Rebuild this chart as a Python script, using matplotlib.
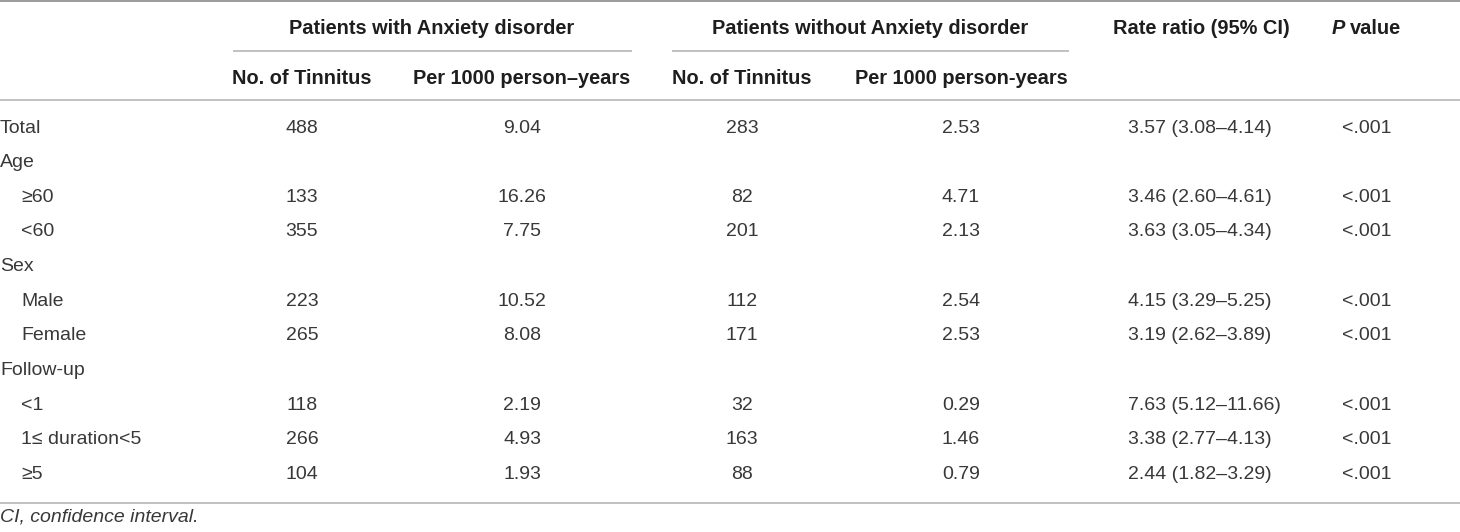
import matplotlib
matplotlib.use("Agg")
import matplotlib.pyplot as plt

# ---- data ----
row_labels = ["Total", "Age", "≥60", "<60", "Sex", "Male", "Female",
              "Follow-up", "<1", "1≤ duration<5", "≥5"]
row_indent = [False, False, True, True, False, True, True, False, True, True, True]
with_n = ["488", "", "133", "355", "", "223", "265", "", "118", "266", "104"]
with_rate = ["9.04", "", "16.26", "7.75", "", "10.52", "8.08", "", "2.19", "4.93", "1.93"]
without_n = ["283", "", "82", "201", "", "112", "171", "", "32", "163", "88"]
without_rate = ["2.53", "", "4.71", "2.13", "", "2.54", "2.53", "", "0.29", "1.46", "0.79"]
rate_ratio = ["3.57 (3.08–4.14)", "", "3.46 (2.60–4.61)", "3.63 (3.05–4.34)", "",
              "4.15 (3.29–5.25)", "3.19 (2.62–3.89)", "", "7.63 (5.12–11.66)",
              "3.38 (2.77–4.13)", "2.44 (1.82–3.29)"]
p_values = ["<.001", "", "<.001", "<.001", "", "<.001", "<.001", "", "<.001", "<.001", "<.001"]

group_headers = ["Patients with Anxiety disorder", "Patients without Anxiety disorder"]
sub_headers = ["No. of Tinnitus", "Per 1000 person–years", "No. of Tinnitus", "Per 1000 person-years"]
footnote = "CI, confidence interval."

# ---- layout ----
W, H = 1460, 532
fig = plt.figure(figsize=(W / 100, H / 100), dpi=100)
ax = fig.add_axes([0, 0, 1, 1])
ax.set_xlim(0, W)
ax.set_ylim(H, 0)
ax.axis("off")

FONT = "Liberation Sans"
FS = 14
FSB = 14.4
BODY = "#383838"
HEAD = "#1e1e1e"
CAP = 7.0  # half cap height in px

col_x = [302, 522, 742, 961]
rr_left = 1128
rr_center = 1201
p_center = 1367

# lines
ax.plot([0, W], [1.2, 1.2], color="#8a8a8a", lw=1.2, solid_capstyle="butt")
ax.plot([233, 632], [51, 51], color="#b0b0b0", lw=1.1, solid_capstyle="butt")
ax.plot([672, 1069], [51, 51], color="#b0b0b0", lw=1.1, solid_capstyle="butt")
ax.plot([0, W], [100, 100], color="#b0b0b0", lw=1.1, solid_capstyle="butt")
ax.plot([0, W], [502.7, 502.7], color="#b0b0b0", lw=1.1, solid_capstyle="butt")

# header row 1
y1 = 27 + CAP
ax.text(432, y1, group_headers[0], ha="center", va="baseline", fontsize=FSB,
        fontweight="bold", family=FONT, color=HEAD)
ax.text(870, y1, group_headers[1], ha="center", va="baseline", fontsize=FSB,
        fontweight="bold", family=FONT, color=HEAD)
ax.text(rr_center, y1, "Rate ratio (95% CI)", ha="center", va="baseline", fontsize=FSB,
        fontweight="bold", family=FONT, color=HEAD)
tp = ax.text(1332, y1, "P", ha="left", va="baseline", fontsize=FSB, fontweight="bold",
             fontstyle="italic", family=FONT, color=HEAD)
fig.canvas.draw()
r = fig.canvas.get_renderer()
bb = tp.get_window_extent(renderer=r)
ax.text(bb.x1 + 5, y1, "value", ha="left", va="baseline", fontsize=FSB,
        fontweight="bold", family=FONT, color=HEAD,
        transform=matplotlib.transforms.blended_transform_factory(
            matplotlib.transforms.IdentityTransform(), ax.transData))

# header row 2
y2 = 77 + CAP
for x, s in zip(col_x, sub_headers):
    ax.text(x, y2, s, ha="center", va="baseline", fontsize=FSB, fontweight="bold",
            family=FONT, color=HEAD)

# body
y0, step = 125.7, 34.6
for i, lab in enumerate(row_labels):
    y = y0 + i * step + CAP
    ax.text(21 if row_indent[i] else 0, y, lab, ha="left", va="baseline",
            fontsize=FS, family=FONT, color=BODY)
    for x, col in zip(col_x, [with_n, with_rate, without_n, without_rate]):
        if col[i]:
            ax.text(x, y, col[i], ha="center", va="baseline", fontsize=FS,
                    family=FONT, color=BODY)
    if rate_ratio[i]:
        ax.text(rr_left, y, rate_ratio[i], ha="left", va="baseline", fontsize=FS,
                family=FONT, color=BODY)
    if p_values[i]:
        ax.text(p_center, y, p_values[i], ha="center", va="baseline", fontsize=FS,
                family=FONT, color=BODY)

ax.text(0, 515 + CAP, footnote, ha="left", va="baseline", fontsize=FS,
        fontstyle="italic", family=FONT, color=BODY)

fig.savefig("out.png", dpi=100)
